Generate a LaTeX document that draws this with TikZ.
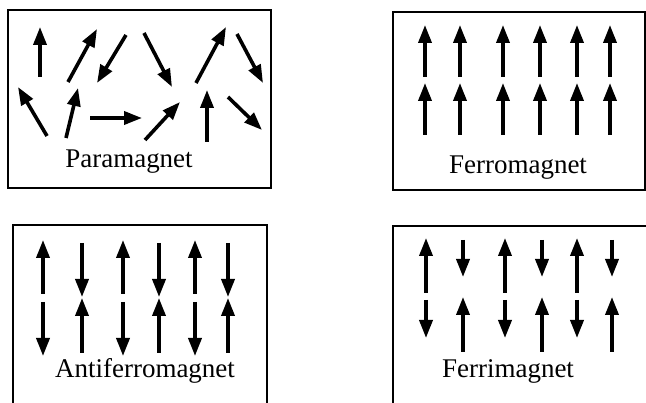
\documentclass[tikz,border=0pt]{standalone}
\usepackage{fontspec}
\setmainfont{Liberation Serif}
\usetikzlibrary{arrows.meta}

\begin{document}
\begin{tikzpicture}[x=1pt,y=-1pt,
  panel/.style={draw,line width=2.4pt},
  spin/.style={line width=3.6pt,-{Triangle[length=18pt,width=13pt]}},
  lab/.style={font=\fontsize{27}{30}\selectfont,anchor=base}]
\useasboundingbox (0,0) rectangle (646,403);
\clip (0,0) rectangle (646,403);
% panels
\draw[panel] (8,10) rectangle (271,188);
\draw[panel] (393,12) rectangle (645,190);
\draw[panel] (267,410) -- (267,225) -- (13,225) -- (13,410);
\draw[panel] (660,226) -- (393,226) -- (393,410);
% paramagnet: random spins
\foreach \xa/\ya/\xb/\yb in {40/77/40/27, 68/82/97/29, 126/35/97/83, 144/33/172/87,
    196/83/226/27, 237/34/263/83, 47/136/18/87, 66/138/78/88, 90/118/142/118,
    145/140/180/102, 207/142/207/90, 228/97/262/130}
  \draw[spin] (\xa,\ya) -- (\xb,\yb);
% ferromagnet: all up
\foreach \x in {425,460,503,540,577,610} {
  \draw[spin] (\x,77) -- (\x,25);
  \draw[spin] (\x,135) -- (\x,83);
}
% antiferromagnet: alternating, equal moments
\foreach \x/\s in {43/1,82/-1,123/1,159/-1,195/1,228/-1} {
  \ifnum\s=1
    \draw[spin] (\x,294) -- (\x,240);
    \draw[spin] (\x,302) -- (\x,356);
  \else
    \draw[spin] (\x,243) -- (\x,297);
    \draw[spin] (\x,353) -- (\x,298);
  \fi
}
% ferrimagnet: alternating, unequal moments
\foreach \x/\s in {426/1,463/-1,505/1,542/-1,577/1,612/-1} {
  \ifnum\s=1
    \draw[spin] (\x,293) -- (\x,238);
    \draw[spin] (\x,300) -- (\x,338);
  \else
    \draw[spin] (\x,240) -- (\x,277);
    \draw[spin] (\x,352) -- (\x,297);
  \fi
}
% labels
\node[lab] (para) at (129,168) {Paramagnet};
\node[lab] (ferro) at (518,174) {Ferromagnet};
\node[lab] (anti) at (145,378) {Antiferromagnet};
\node[lab] (ferri) at (508,378) {Ferrimagnet};
\end{tikzpicture}
\end{document}
